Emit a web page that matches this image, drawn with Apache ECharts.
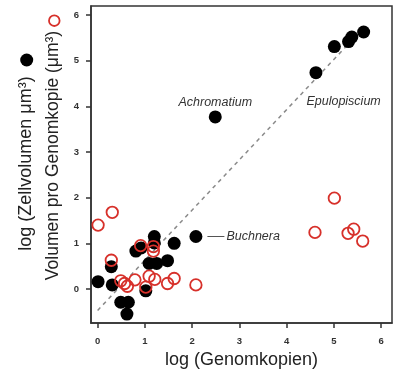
<!DOCTYPE html>
<html>
<head>
<meta charset="utf-8">
<script src="https://cdn.jsdelivr.net/npm/echarts@6/dist/echarts.min.js"></script>
<style>
  html, body { margin: 0; padding: 0; background: #fff; }
  #chart { width: 399px; height: 374px; }
</style>
</head>
<body>
<div id="chart"></div>
<script>
// ---- data ----
const cellVolX = [0.01, 0.31, 0.29, 0.49, 0.65, 0.62, 0.81, 0.92, 1.20, 1.20, 1.62, 1.09, 1.25, 1.48, 1.02, 2.08, 2.49, 4.62, 5.01, 5.31, 5.38, 5.63];
const cellVolY = [0.16, 0.09, 0.49, -0.29, -0.29, -0.55, 0.83, 0.90, 1.15, 1.01, 1.00, 0.56, 0.56, 0.62, -0.04, 1.15, 3.77, 4.74, 5.31, 5.42, 5.52, 5.63];
const perCopyX = [0.01, 0.31, 0.29, 0.49, 0.57, 0.63, 0.79, 0.91, 1.18, 1.18, 1.02, 1.09, 1.21, 1.48, 1.62, 2.08, 4.60, 5.01, 5.30, 5.42, 5.61];
const perCopyY = [1.40, 1.68, 0.63, 0.18, 0.12, 0.06, 0.20, 0.95, 0.93, 0.83, 0.04, 0.28, 0.21, 0.12, 0.23, 0.09, 1.24, 1.99, 1.22, 1.31, 1.05];
const fitX = [0, 5.5];
const fitY = [-0.47, 5.58];
const xTicks = [0, 1, 2, 3, 4, 5, 6];
const yTicks = [0, 1, 2, 3, 4, 5, 6];
const annotatedNames = { 15: 'Buchnera', 16: 'Achromatium', 17: 'Epulopiscium' };

const xTitle = 'log (Genomkopien)';
const yTitle1 = 'log (Zellvolumen \u03bcm\u00b3)';
const yTitle2 = 'Volumen pro Genomkopie (\u03bcm\u00b3)';

// ---- styles ----
const FONT = '"Liberation Sans", Arial, Helvetica, sans-serif';
const annStyle = { fontFamily: FONT, fontStyle: 'italic', fontSize: 12.5, color: '#333' };
const labelCfg = {
  Buchnera: {
    show: true, position: 'right', distance: 5,
    formatter: '{ln|}{t|Buchnera}',
    rich: {
      ln: { width: 17, height: 1, backgroundColor: '#555' },
      t: Object.assign({ padding: [0, 0, 0, 2] }, annStyle)
    }
  },
  Achromatium: Object.assign({ show: true, position: 'top', distance: 1.5, formatter: 'Achromatium' }, annStyle),
  Epulopiscium: Object.assign({ show: true, position: [-3, 29], align: 'left', verticalAlign: 'top', formatter: 'Epulopiscium' }, annStyle)
};

const blackData = cellVolX.map((x, i) => {
  const item = { value: [x, cellVolY[i]] };
  const nm = annotatedNames[i];
  if (nm) { item.name = nm; item.label = labelCfg[nm]; }
  return item;
});
const redData = perCopyX.map((x, i) => [x, perCopyY[i]]);
const fitData = fitX.map((x, i) => [x, fitY[i]]);

const axisCommon = {
  axisLine: { show: true, onZero: false, lineStyle: { color: '#333', width: 1.5 } },
  axisTick: { show: true, inside: false, length: 5, lineStyle: { color: '#333', width: 1.5 } },
  splitLine: { show: false },
  axisLabel: { fontFamily: FONT, fontSize: 9.5, fontWeight: 'bold', color: '#333' }
};

const chart = echarts.init(document.getElementById('chart'), null, { renderer: 'canvas' });
chart.setOption({
  animation: false,
  backgroundColor: '#fff',
  grid: { left: 91, right: 7, top: 6, bottom: 51, show: true, borderColor: '#333', borderWidth: 1.5, backgroundColor: 'transparent' },
  xAxis: Object.assign({}, axisCommon, {
    type: 'value', min: -0.14, max: 6.23,
    axisTick: Object.assign({}, axisCommon.axisTick, { customValues: xTicks }),
    axisLabel: Object.assign({}, axisCommon.axisLabel, { customValues: xTicks, margin: 13 }),
    name: xTitle, nameLocation: 'middle', nameGap: 27,
    nameTextStyle: { fontFamily: FONT, fontSize: 18, color: '#222' }
  }),
  yAxis: Object.assign({}, axisCommon, {
    type: 'value', min: -0.745, max: 6.2,
    axisTick: Object.assign({}, axisCommon.axisTick, { customValues: yTicks }),
    axisLabel: Object.assign({}, axisCommon.axisLabel, { customValues: yTicks, margin: 12 })
  }),
  graphic: [
    { type: 'text', x: 26, y: 163.5, rotation: Math.PI / 2,
      style: { text: yTitle1, font: '18px ' + FONT, fill: '#222', align: 'center', verticalAlign: 'middle' } },
    { type: 'text', x: 53, y: 155.5, rotation: Math.PI / 2,
      style: { text: yTitle2, font: '17.5px ' + FONT, fill: '#222', align: 'center', verticalAlign: 'middle' } },
    { type: 'circle', shape: { cx: 26.7, cy: 60, r: 6.5 }, style: { fill: '#000' } },
    { type: 'circle', shape: { cx: 54.3, cy: 20.7, r: 5.3 }, style: { fill: 'transparent', stroke: '#d7302a', lineWidth: 1.8 } }
  ],
  series: [
    {
      type: 'line', data: fitData, symbol: 'none', z: 1, silent: true,
      lineStyle: { color: '#8a8a8a', width: 1.5, type: [4, 4] }
    },
    {
      type: 'scatter', name: 'Zellvolumen', data: blackData, symbol: 'circle', symbolSize: 13, z: 2,
      itemStyle: { color: '#000', opacity: 1 },
      label: { show: false }
    },
    {
      type: 'scatter', name: 'Volumen pro Genomkopie', data: redData, symbol: 'circle', symbolSize: 11.5, z: 3,
      itemStyle: { color: 'transparent', borderColor: '#d7302a', borderWidth: 1.8, opacity: 1 }
    }
  ]
});
</script>
</body>
</html>
